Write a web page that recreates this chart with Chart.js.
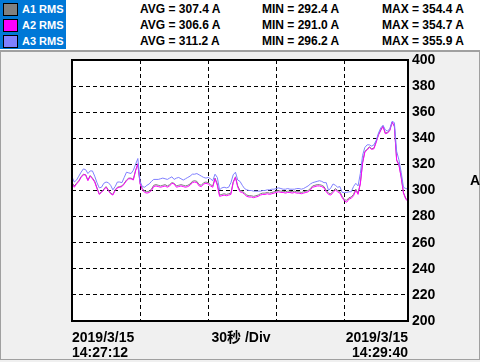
<!DOCTYPE html>
<html>
<head>
<meta charset="utf-8">
<script src="https://cdn.jsdelivr.net/npm/chart.js@4.4.1/dist/chart.umd.min.js"></script>
<style>
  html, body { margin: 0; padding: 0; }
  body { width: 480px; height: 362px; background: #f0f0f0; position: relative; overflow: hidden;
         font-family: "Liberation Sans", Arial, "Noto Sans CJK SC", sans-serif; font-weight: bold; }
  #hdr { position: absolute; left: 0; top: 0; width: 480px; height: 50px; background: #fff; border-bottom: 2px solid #a0a0a0; }
  #lg { position: absolute; left: 0; top: 0; width: 66px; height: 49px; background: #0078d7; }
  .row { position: absolute; left: 0; height: 16px; line-height: 16px; font-size: 11px; }
  .sw { position: absolute; left: 3px; top: 2px; width: 13px; height: 11px; border: 1px solid #000; }
  .nm { position: absolute; left: 22px; color: #fff; white-space: nowrap; }
  .v { position: absolute; color: #000; white-space: nowrap; font-size: 12px; line-height: 16px; }
  #frame { position: absolute; left: 0; top: 52px; width: 478px; height: 307px; border: 1px solid #a0a0a0; border-top: 0; }
  #c { position: absolute; left: 0; top: 0; }
  .bt { position: absolute; font-size: 14px; line-height: 15px; color: #000; white-space: nowrap; }
</style>
</head>
<body>
<div id="hdr">
  <div id="lg"></div>
</div>
<div id="frame"></div>
<canvas id="c" width="480" height="362"></canvas>
<div class="bt" style="left:72px; top:330px;">2019/3/15<br>14:27:12</div>
<div class="bt" style="left:210px; top:330px; width:62px; text-align:center;">30秒 /Div</div>
<div class="bt" style="right:72px; top:330px; text-align:right;">2019/3/15<br>14:29:40</div>
<div class="bt" style="left:470px; top:173px;">A</div>
<script>
// sample time in seconds from 14:27:12
const times = Array.from({ length: 149 }, (_, i) => i);

const a1 = [306, 303.5, 305.5, 307.5, 310.5, 312.5, 312, 308, 311.5, 309.5,
  307, 302, 297.5, 299, 301, 303, 300.5, 298, 297, 300.5,
  302.5, 303, 303.5, 305.5, 308, 309.5, 309.5, 308.5, 315.5, 320,
  305.5, 301.5, 299.5, 299, 299.5, 301, 304, 304.5, 304, 303.5,
  304, 304.5, 303.5, 304.5, 306, 305.5, 303.5, 304, 304.5, 304,
  303.5, 304, 305, 307, 307.5, 307, 304.5, 304, 306, 306.5,
  306, 304.5, 303.5, 309.5, 305, 296.5, 297, 297.5, 297, 297.5,
  298, 306.5, 310.5, 303.5, 300, 299.5, 298, 296.5, 296, 296,
  295.5, 296, 296.5, 297.5, 298, 298, 298.5, 298, 298.5, 299,
  299.5, 300, 299.5, 299.5, 299, 299.5, 299.5, 299, 299.5, 299,
  299, 298.5, 299, 299.5, 300, 301.5, 303.5, 304, 304.5, 304.5,
  304, 303, 300, 298, 297.5, 299.5, 301.5, 300, 299, 295.5,
  293, 292.5, 294.5, 295, 297, 301, 298, 305.5, 321.5, 330,
  331.5, 333.5, 332, 332.5, 337.5, 343, 346.5, 349.5, 344, 344.5,
  346.5, 352, 349.5, 323.5, 320, 310.5, 298.5, 294, 292.5];

const a2 = [305.5, 302.5, 305, 307, 310, 312, 312, 307.5, 311, 309,
  306.5, 301.5, 297, 298.5, 300.5, 302.5, 300, 297.5, 296.5, 300,
  302, 302.5, 303, 305, 307.5, 309, 309, 308, 315, 320.5,
  305, 300.5, 298.5, 298, 298.5, 300, 303, 303.5, 303, 302.5,
  303, 303.5, 302.5, 303.5, 305.5, 305, 302.5, 303, 303.5, 303,
  302.5, 303, 304, 306, 306.5, 306, 303.5, 303, 305, 305.5,
  305, 303.5, 302.5, 309, 304, 295.5, 296, 296.5, 296, 296.5,
  297, 306, 310, 302.5, 299, 298.5, 297, 295.5, 295, 295,
  294.5, 295, 295.5, 296.5, 297, 297, 297.5, 297, 297.5, 298,
  298.5, 299, 298.5, 298.5, 298, 298.5, 298.5, 298, 298.5, 298,
  298, 297.5, 298, 298.5, 299, 300.5, 302.5, 303, 303.5, 303.5,
  303, 302, 299, 297, 296.5, 298.5, 300.5, 299, 298, 294.5,
  292, 291, 293.5, 294, 296, 300, 297, 305, 321, 329.5,
  331, 333, 331.5, 332, 337, 342.5, 346, 349, 343.5, 344,
  346, 352.5, 349, 323, 319.5, 310, 298, 293.5, 291.5];

const a3 = [310.5, 306.5, 308, 311, 314, 316.5, 316, 313, 315, 315,
  311, 306, 302, 302.5, 305.5, 306.5, 306, 304, 300.5, 303,
  306.5, 306.5, 306, 310, 314, 313.5, 313, 315.5, 320, 324.5,
  307, 303, 302.5, 304, 305, 307, 308.5, 308.5, 308.5, 309,
  309.5, 309, 308.5, 309.5, 310.5, 308.5, 309.5, 310, 309, 308,
  309, 310, 311, 312.5, 312.5, 313, 312, 311, 310, 309.5,
  310, 309, 307.5, 312.5, 310, 300.5, 302, 302.5, 302, 302.5,
  306, 312, 314, 308, 307, 304, 301.5, 300.5, 300, 300,
  299.5, 299.5, 299.5, 299.5, 300, 300, 300.5, 300.5, 301, 301,
  301.5, 302, 301.5, 301, 301, 301.5, 301, 301, 301, 301.5,
  301.5, 301, 301.5, 302.5, 303.5, 305, 306, 306.5, 307, 307.5,
  307, 306, 306, 300, 302, 305, 304, 302.5, 303, 298.5,
  298.5, 298.5, 299, 299, 303, 305.5, 303.5, 313, 327, 333,
  335, 335, 334, 335, 338.5, 344, 348, 350, 346.5, 345.5,
  347.5, 353, 352, 330, 323.5, 314, 302.5, 301.5, 301];

const yTicks = [200, 220, 240, 260, 280, 300, 320, 340, 360, 380, 400];

const names = ['A1 RMS', 'A2 RMS', 'A3 RMS'];
const colors = ['#808080', '#ff00ff', '#8080ff'];
const avgs = ['307.4', '306.6', '311.2'];
const mins = ['292.4', '291.0', '296.2'];
const maxs = ['354.4', '354.7', '355.9'];

// header legend + stats
const hdr = document.getElementById('hdr');
names.forEach((n, i) => {
  const top = 1 + i * 16;
  const r = document.createElement('div');
  r.className = 'row';
  r.style.top = top + 'px';
  r.innerHTML = `<span class="sw" style="background:${colors[i]}"></span><span class="nm">${n}</span>`;
  hdr.appendChild(r);
  [[140, 'AVG = ' + avgs[i] + ' A'], [262, 'MIN = ' + mins[i] + ' A'], [382, 'MAX = ' + maxs[i] + ' A']].forEach(([x, t]) => {
    const s = document.createElement('div');
    s.className = 'v';
    s.style.left = x + 'px';
    s.style.top = top + 'px';
    s.textContent = t;
    hdr.appendChild(s);
  });
});

const series = [a1, a2, a3];
const order = [2, 1, 0];

const plotBg = {
  id: 'plotBg',
  beforeDraw(chart) {
    const { ctx, chartArea: a } = chart;
    ctx.save();
    ctx.fillStyle = '#ffffff';
    ctx.fillRect(a.left, a.top, a.right - a.left, a.bottom - a.top);
    ctx.restore();
  },
  afterDraw(chart) {
    const { ctx, chartArea: a } = chart;
    ctx.save();
    ctx.strokeStyle = '#000';
    ctx.lineWidth = 2;
    ctx.strokeRect(a.left, a.top, a.right - a.left, a.bottom - a.top);
    ctx.restore();
  }
};

new Chart(document.getElementById('c'), {
  type: 'line',
  data: {
    datasets: series.map((s, i) => ({
      label: names[i],
      data: s.map((v, k) => ({ x: times[k], y: v })),
      borderColor: colors[i],
      borderWidth: 1,
      pointRadius: 0,
      tension: 0,
      order: order[i]
    }))
  },
  options: {
    responsive: false,
    animation: false,
    events: [],
    layout: { padding: { left: 72, top: 60, right: 0, bottom: 0 } },
    plugins: { legend: { display: false }, tooltip: { enabled: false } },
    scales: {
      x: {
        type: 'linear', min: 0, max: 148,
        ticks: { display: false, stepSize: 30 },
        grid: { color: '#000', lineWidth: 1, drawTicks: false },
        border: { display: false, dash: [4, 3] },
        afterFit: s => { s.height = 41; }
      },
      y: {
        position: 'right', min: 200, max: 400,
        afterBuildTicks: s => { s.ticks = yTicks.map(v => ({ value: v })); },
        ticks: { color: '#000', padding: 4, font: { family: '"Liberation Sans", Arial', size: 14, weight: 'bold' } },
        grid: { color: '#000', lineWidth: 1, drawTicks: false },
        border: { display: false, dash: [4, 3] },
        afterFit: s => { s.width = 72; }
      }
    }
  },
  plugins: [plotBg]
});
</script>
</body>
</html>
